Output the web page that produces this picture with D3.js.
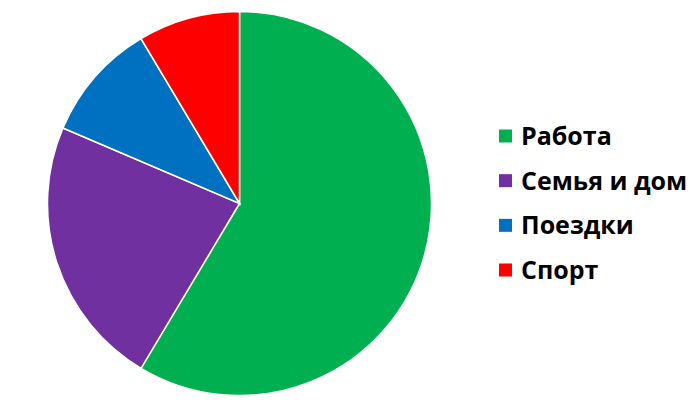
<html>
  <head>
    <meta charset="utf-8" />
    <script src="https://cdnjs.cloudflare.com/ajax/libs/d3/7.6.1/d3.min.js"></script>
    <style>
      body { margin: 0; background: #fff; }
      svg { display: block; }
    </style>
  </head>
  <body>
    <svg width="700" height="406"></svg>
  </body>
  <script>
    let categories = ["Работа", "Семья и дом", "Поездки", "Спорт"];
    let values = [8.2, 3.2, 1.4, 1.2];
    let colors = ["#00b050", "#7030a0", "#0070c0", "#ff0000"];

    let svg = d3.select("svg");
    let fillScale = d3.scaleOrdinal().domain(categories).range(colors);

    let pie = d3.pie().sort(null).value((d) => d.value);
    let arc = d3.arc().innerRadius(0).outerRadius(192);

    let data = categories.map((c, i) => ({ name: c, value: values[i] }));

    svg
      .append("g")
      .attr("transform", "translate(239.5,203.5)")
      .selectAll("path")
      .data(pie(data))
      .enter()
      .append("path")
      .attr("d", arc)
      .style("fill", (d) => fillScale(d.data.name))
      .style("stroke", "#fff")
      .style("stroke-width", 1.5);

    let legendY = d3.scalePoint().domain(categories).range([136, 270]);

    let legend = svg
      .selectAll("g.legend")
      .data(categories)
      .enter()
      .append("g")
      .attr("class", "legend")
      .attr("transform", (d) => `translate(499,${legendY(d)})`);

    legend
      .append("rect")
      .attr("x", 0)
      .attr("y", -6.5)
      .attr("width", 13)
      .attr("height", 13)
      .style("fill", (d) => fillScale(d));

    legend
      .append("text")
      .attr("x", 22)
      .attr("y", 9)
      .style("font-family", "'Open Sans', sans-serif")
      .style("font-weight", "bold")
      .style("font-size", "25px")
      .style("fill", "#000")
      .text((d) => d);
  </script>
</html>
